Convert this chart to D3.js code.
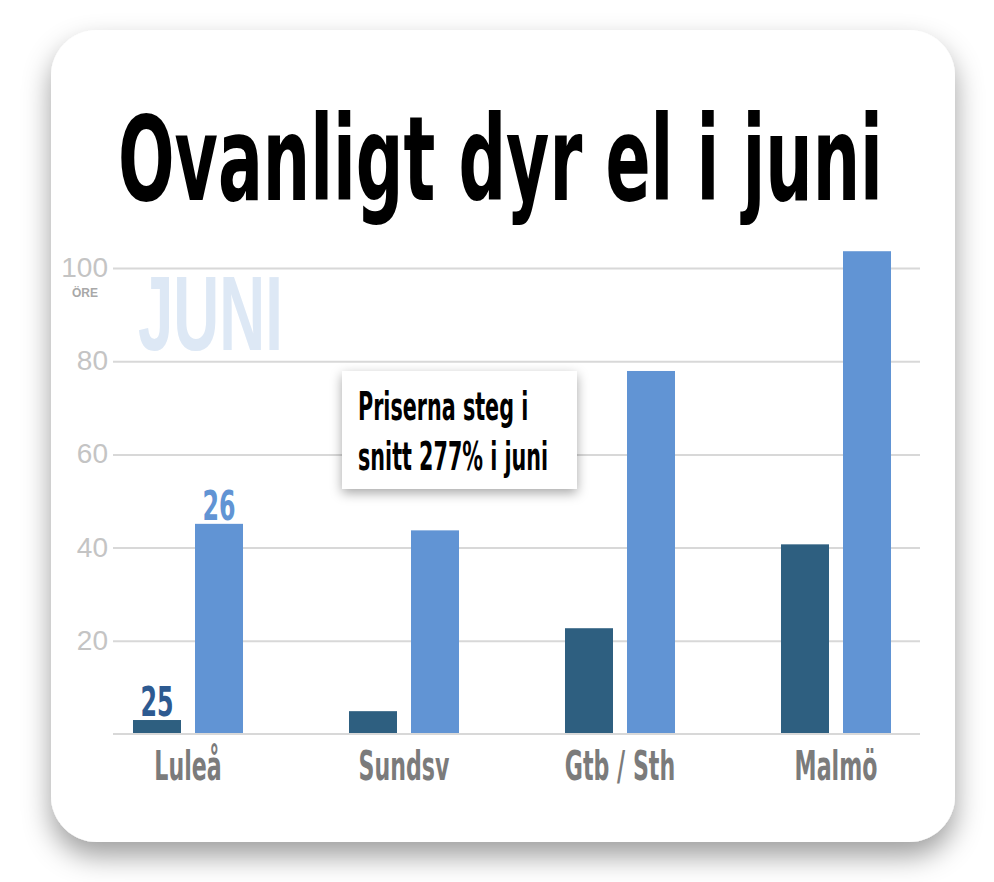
<!DOCTYPE html>
<html>
<head>
<meta charset="utf-8">
<script src="https://cdn.jsdelivr.net/npm/d3@7"></script>
<style>
  body { margin: 0; background: #fff; }
  svg { display: block; }
</style>
</head>
<body>
<script>
// elpriser i öre, juni
var cities = ["Luleå", "Sundsv", "Gtb / Sth", "Malmö"]
var series = ["2025", "2026"]
var seriesLabels = ["25", "26"]
var values2025 = [3.0, 4.9, 22.7, 40.7]
var values2026 = [45.1, 43.7, 77.9, 103.6]
var yTicks = [20, 40, 60, 80, 100]

var W = 994, H = 882

var data = cities.map(function(c, i) {
  return {city: c, "2025": values2025[i], "2026": values2026[i]}
})

var svg = d3.select("body").append("svg")
    .attr("width", W)
    .attr("height", H)

var defs = svg.append("defs")
var f1 = defs.append("filter").attr("id", "cardShadow")
    .attr("x", "-10%").attr("y", "-10%").attr("width", "120%").attr("height", "125%")
f1.append("feDropShadow")
    .attr("dx", 0).attr("dy", 14).attr("stdDeviation", 14)
    .attr("flood-color", "#000").attr("flood-opacity", 0.38)

var f2 = defs.append("filter").attr("id", "boxShadow")
    .attr("x", "-20%").attr("y", "-20%").attr("width", "140%").attr("height", "150%")
f2.append("feDropShadow")
    .attr("dx", 0).attr("dy", 4).attr("stdDeviation", 6)
    .attr("flood-color", "#000").attr("flood-opacity", 0.35)

// kortet
svg.append("rect")
    .attr("x", 51).attr("y", 30)
    .attr("width", 904).attr("height", 812)
    .attr("rx", 46)
    .attr("fill", "#fff")
    .attr("filter", "url(#cardShadow)")

var condensed = "'DejaVu Sans Condensed', 'DejaVu Sans', sans-serif"

// squeeze text horizontally (DIN condensed look), keeps x/y as anchor
function squeeze(sel, k) {
  sel.each(function() {
    var t = d3.select(this)
    var tx = +t.attr("x"), ty = +t.attr("y")
    t.attr("x", 0).attr("y", 0)
     .attr("transform", "translate(" + tx + "," + ty + ") scale(" + k + ",1)")
  })
}

// titel
var title = svg.append("text")
    .attr("x", 118).attr("y", 200)
    .attr("font-family", condensed)
    .attr("font-weight", "bold")
    .attr("font-size", 118)
    .attr("fill", "#000")
    .text("Ovanligt dyr el i juni")
title.call(squeeze, 765 / title.node().getComputedTextLength())

var margin = {left: 113, right: 920, top: 268, bottom: 734}

var y = d3.scaleLinear()
    .domain([0, 100])
    .range([margin.bottom, margin.top])

var x0 = d3.scaleBand()
    .domain(cities)
    .range([80, 944])
    .paddingInner(0.4907)
    .paddingOuter(0.4907 / 2)

var x1 = d3.scaleBand()
    .domain(series)
    .range([0, x0.bandwidth()])
    .paddingInner(0.2258)

var color = d3.scaleOrdinal()
    .domain(series)
    .range(["#2e5f80", "#6194d4"])
var labelColor = d3.scaleOrdinal()
    .domain(series)
    .range(["#2d5a91", "#6194d4"])

// JUNI vattenstämpel
svg.append("text")
    .attr("x", 138).attr("y", 350)
    .attr("font-family", "'Liberation Sans', Arial, sans-serif")
    .attr("font-weight", "bold")
    .attr("font-size", 106)
    .attr("fill", "#dde8f5")
    .text("JUNI")
    .call(squeeze, 0.6)

// rutnät
var yAxis = d3.axisLeft(y)
    .tickValues(yTicks)
    .tickSize(-(margin.right - margin.left))
    .tickPadding(5)

var gy = svg.append("g")
    .attr("transform", "translate(" + margin.left + ",0)")
    .call(yAxis)
gy.select(".domain").remove()
gy.selectAll("line")
    .attr("stroke", "#d8d8d8")
    .attr("stroke-width", 2)
gy.selectAll("text")
    .attr("font-family", "'Liberation Sans', Arial, sans-serif")
    .attr("font-size", 28)
    .attr("fill", "#c4c4c4")
    .attr("dy", "0.3em")

svg.append("text")
    .attr("x", 98).attr("y", 297)
    .attr("text-anchor", "end")
    .attr("font-family", "'Liberation Sans', Arial, sans-serif")
    .attr("font-weight", "bold")
    .attr("font-size", 12)
    .attr("fill", "#a8a8a8")
    .text("ÖRE")

// staplar
var groups = svg.append("g").selectAll("g")
    .data(data)
    .enter().append("g")
    .attr("transform", function(d) { return "translate(" + x0(d.city) + ",0)" })

groups.selectAll("rect")
    .data(function(d) { return series.map(function(s) { return {key: s, value: d[s]} }) })
    .enter().append("rect")
    .attr("x", function(d) { return x1(d.key) })
    .attr("y", function(d) { return y(d.value) })
    .attr("width", x1.bandwidth())
    .attr("height", function(d) { return y(0) - y(d.value) })
    .attr("fill", function(d) { return color(d.key) })

// baslinje
svg.append("line")
    .attr("x1", margin.left).attr("x2", margin.right)
    .attr("y1", y(0)).attr("y2", y(0))
    .attr("stroke", "#d8d8d8")
    .attr("stroke-width", 2)

// serieetiketter ovanför Luleå
svg.append("g").selectAll("text")
    .data(series)
    .enter().append("text")
    .attr("x", function(s) { return x0(cities[0]) + x1(s) + x1.bandwidth() / 2 })
    .attr("y", function(s) { return y(data[0][s]) - 4 })
    .attr("text-anchor", "middle")
    .attr("font-family", condensed)
    .attr("font-weight", "bold")
    .attr("font-size", 40)
    .attr("fill", function(s) { return labelColor(s) })
    .text(function(s, i) { return seriesLabels[i] })
    .call(squeeze, 0.66)

// kategorier
svg.append("g").selectAll("text")
    .data(cities)
    .enter().append("text")
    .attr("x", function(c) { return x0(c) + x0.bandwidth() / 2 })
    .attr("y", 780)
    .attr("text-anchor", "middle")
    .attr("font-family", condensed)
    .attr("font-weight", "bold")
    .attr("font-size", 41)
    .attr("fill", "#7b7b7b")
    .text(function(c) { return c })
    .call(squeeze, 0.6)

// kommentar
var note = svg.append("g")
note.append("rect")
    .attr("x", 342).attr("y", 371)
    .attr("width", 235).attr("height", 118)
    .attr("fill", "#fff")
    .attr("filter", "url(#boxShadow)")
note.selectAll("text")
    .data(["Priserna steg i", "snitt 277% i juni"])
    .enter().append("text")
    .attr("x", 358)
    .attr("y", function(d, i) { return 420 + i * 50 })
    .attr("font-family", condensed)
    .attr("font-weight", "bold")
    .attr("font-size", 39)
    .attr("fill", "#000")
    .text(function(d) { return d })
    .call(squeeze, 0.59)
</script>
</body>
</html>
